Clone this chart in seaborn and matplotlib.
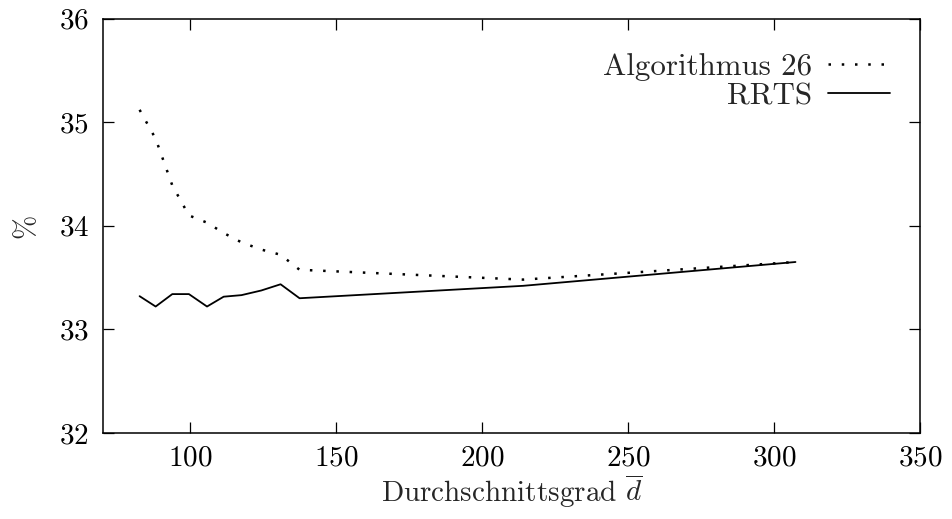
import matplotlib
matplotlib.use("Agg")
import matplotlib.pyplot as plt
import seaborn as sns
import pandas as pd
from matplotlib.lines import Line2D

# Data
degree = [82.6, 88.1, 93.8, 99.5, 105.7, 111.4, 117.5, 124.3, 130.9, 137.4, 214.0, 307.3]
algo26 = [35.12, 34.84, 34.39, 34.10, 34.03, 33.93, 33.84, 33.77, 33.72, 33.575, 33.48, 33.65]
rrts = [33.32, 33.22, 33.34, 33.34, 33.22, 33.315, 33.33, 33.375, 33.435, 33.30, 33.42, 33.65]
series_names = ["Algorithmus 26", "RRTS"]
xticks = [100, 150, 200, 250, 300, 350]
yticks = [32, 33, 34, 35, 36]

sns.set_theme(style="ticks")
plt.rcParams["font.family"] = ["cmr10", "DejaVu Serif"]
plt.rcParams["mathtext.fontset"] = "cm"
plt.rcParams["axes.formatter.use_mathtext"] = True
plt.rcParams["axes.unicode_minus"] = False

fs = 21
fig = plt.figure(figsize=(9.52, 5.19), dpi=100)
ax = fig.add_axes([0.108, 0.166, 0.8585, 0.798])

df = pd.DataFrame({"d": degree, "a": algo26, "r": rrts})
dot_style = (0, (1, 4.3))
dot_lw = 1.8
sns.lineplot(data=df, x="d", y="a", ax=ax, color="black", lw=dot_lw, ls=dot_style)
sns.lineplot(data=df, x="d", y="r", ax=ax, color="black", lw=1.3, ls="-")

ax.set_xlim(70, 350)
ax.set_ylim(32, 36)
ax.set_xticks(xticks)
ax.set_yticks(yticks)
ax.tick_params(direction="in", length=8, width=0.9, top=True, right=True,
               labelsize=fs, colors="black")
ax.tick_params(axis="y", pad=10)
ax.tick_params(axis="x", pad=9)
for s in ax.spines.values():
    s.set_visible(True)
    s.set_linewidth(1.1)
    s.set_color("black")

ax.set_xlabel(r"Durchschnittsgrad $\overline{d}$", fontsize=fs, labelpad=1)
ax.set_ylabel("%", fontsize=fs, labelpad=14)

handles = [Line2D([], [], color="black", lw=dot_lw, ls=dot_style),
           Line2D([], [], color="black", lw=1.3, ls="-")]
leg = ax.legend(handles, series_names, loc="upper right", frameon=False,
                markerfirst=False, fontsize=22.3, handlelength=2.0,
                handletextpad=0.5, labelspacing=0.05,
                bbox_to_anchor=(0.978, 0.948), borderaxespad=0)
for t in leg.get_texts():
    t.set_ha("right")
leg._legend_box.align = "right"

fig.savefig("out.png", dpi=100)
